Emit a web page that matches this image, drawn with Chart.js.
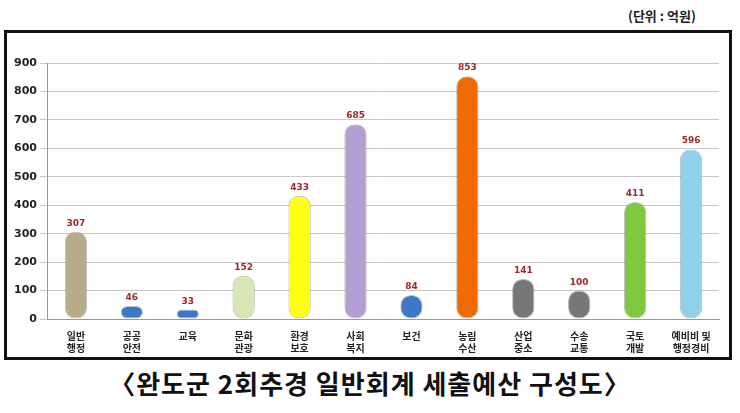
<!DOCTYPE html>
<html><head><meta charset="utf-8">
<script src="https://cdn.jsdelivr.net/npm/chart.js@4"></script>
<style>
body{margin:0;background:#fff;font-family:"Noto Sans CJK KR",sans-serif;}
#unit{position:absolute;left:628px;top:6px;font-size:13px;font-weight:bold;color:#222;}
#frame{position:absolute;left:4px;top:30px;width:728px;height:330px;border:3px solid #111;box-sizing:border-box;}
#title{position:absolute;left:0;top:364px;width:740px;text-align:center;font-size:26px;font-weight:bold;color:#111;letter-spacing:1px;}
</style></head><body>
<div id="unit">(단위 : 억원)</div>
<div id="frame"><canvas id="c" width="722" height="324"></canvas></div>
<div id="title">〈완도군 2회추경 일반회계 세출예산 구성도〉</div>
<script>
const categories = [["일반","행정"],["공공","안전"],["교육"],["문화","관광"],["환경","보호"],["사회","복지"],["보건"],["농림","수산"],["산업","중소"],["수송","교통"],["국토","개발"],["예비비 및","행정경비"]];
const values = [307,46,33,152,433,685,84,853,141,100,411,596];
const barColors = ["#b8ab88","#3d78c8","#3d78c8","#d6e6b4","#ffff10","#b39ed2","#3d78c8","#f06a00","#777777","#777777","#80c840","#8fd0ea"];
const ticks = [0,100,200,300,400,500,600,700,800,900];

const labelPlugin = {
  id:"labels",
  afterDatasetsDraw(chart){
    const ctx = chart.ctx;
    const meta = chart.getDatasetMeta(0);
    ctx.save();
    ctx.font = "bold 9px 'DejaVu Sans'";
    ctx.fillStyle = "#a0282a";
    ctx.textAlign = "center";
    meta.data.forEach((bar,i)=>{
      ctx.fillText(values[i], bar.x, bar.y - 6);
    });
    ctx.restore();
  }
};

new Chart(document.getElementById("c"),{
  type:"bar",
  data:{labels:categories,datasets:[{data:values,backgroundColor:barColors,borderColor:"rgba(0,0,0,0.25)",borderWidth:1,borderRadius:10,borderSkipped:false,barPercentage:0.4,categoryPercentage:1}]},
  options:{
    responsive:false,animation:false,
    layout:{padding:{top:30,right:10,left:4,bottom:0}},
    plugins:{legend:{display:false},tooltip:{enabled:false}},
    scales:{
      y:{min:0,max:900,afterBuildTicks(a){a.ticks=ticks.map(v=>({value:v}));},
        ticks:{font:{size:11,weight:"bold",family:"DejaVu Sans"},color:"#222"},
        grid:{color:"#c8c8c8"},border:{color:"#999"}},
      x:{ticks:{font:{size:10,weight:"bold",family:"Noto Sans CJK KR"},color:"#222",maxRotation:0,autoSkip:false},
        grid:{display:false},border:{color:"#999"}}
    }
  },
  plugins:[labelPlugin]
});
</script>
</body></html>
